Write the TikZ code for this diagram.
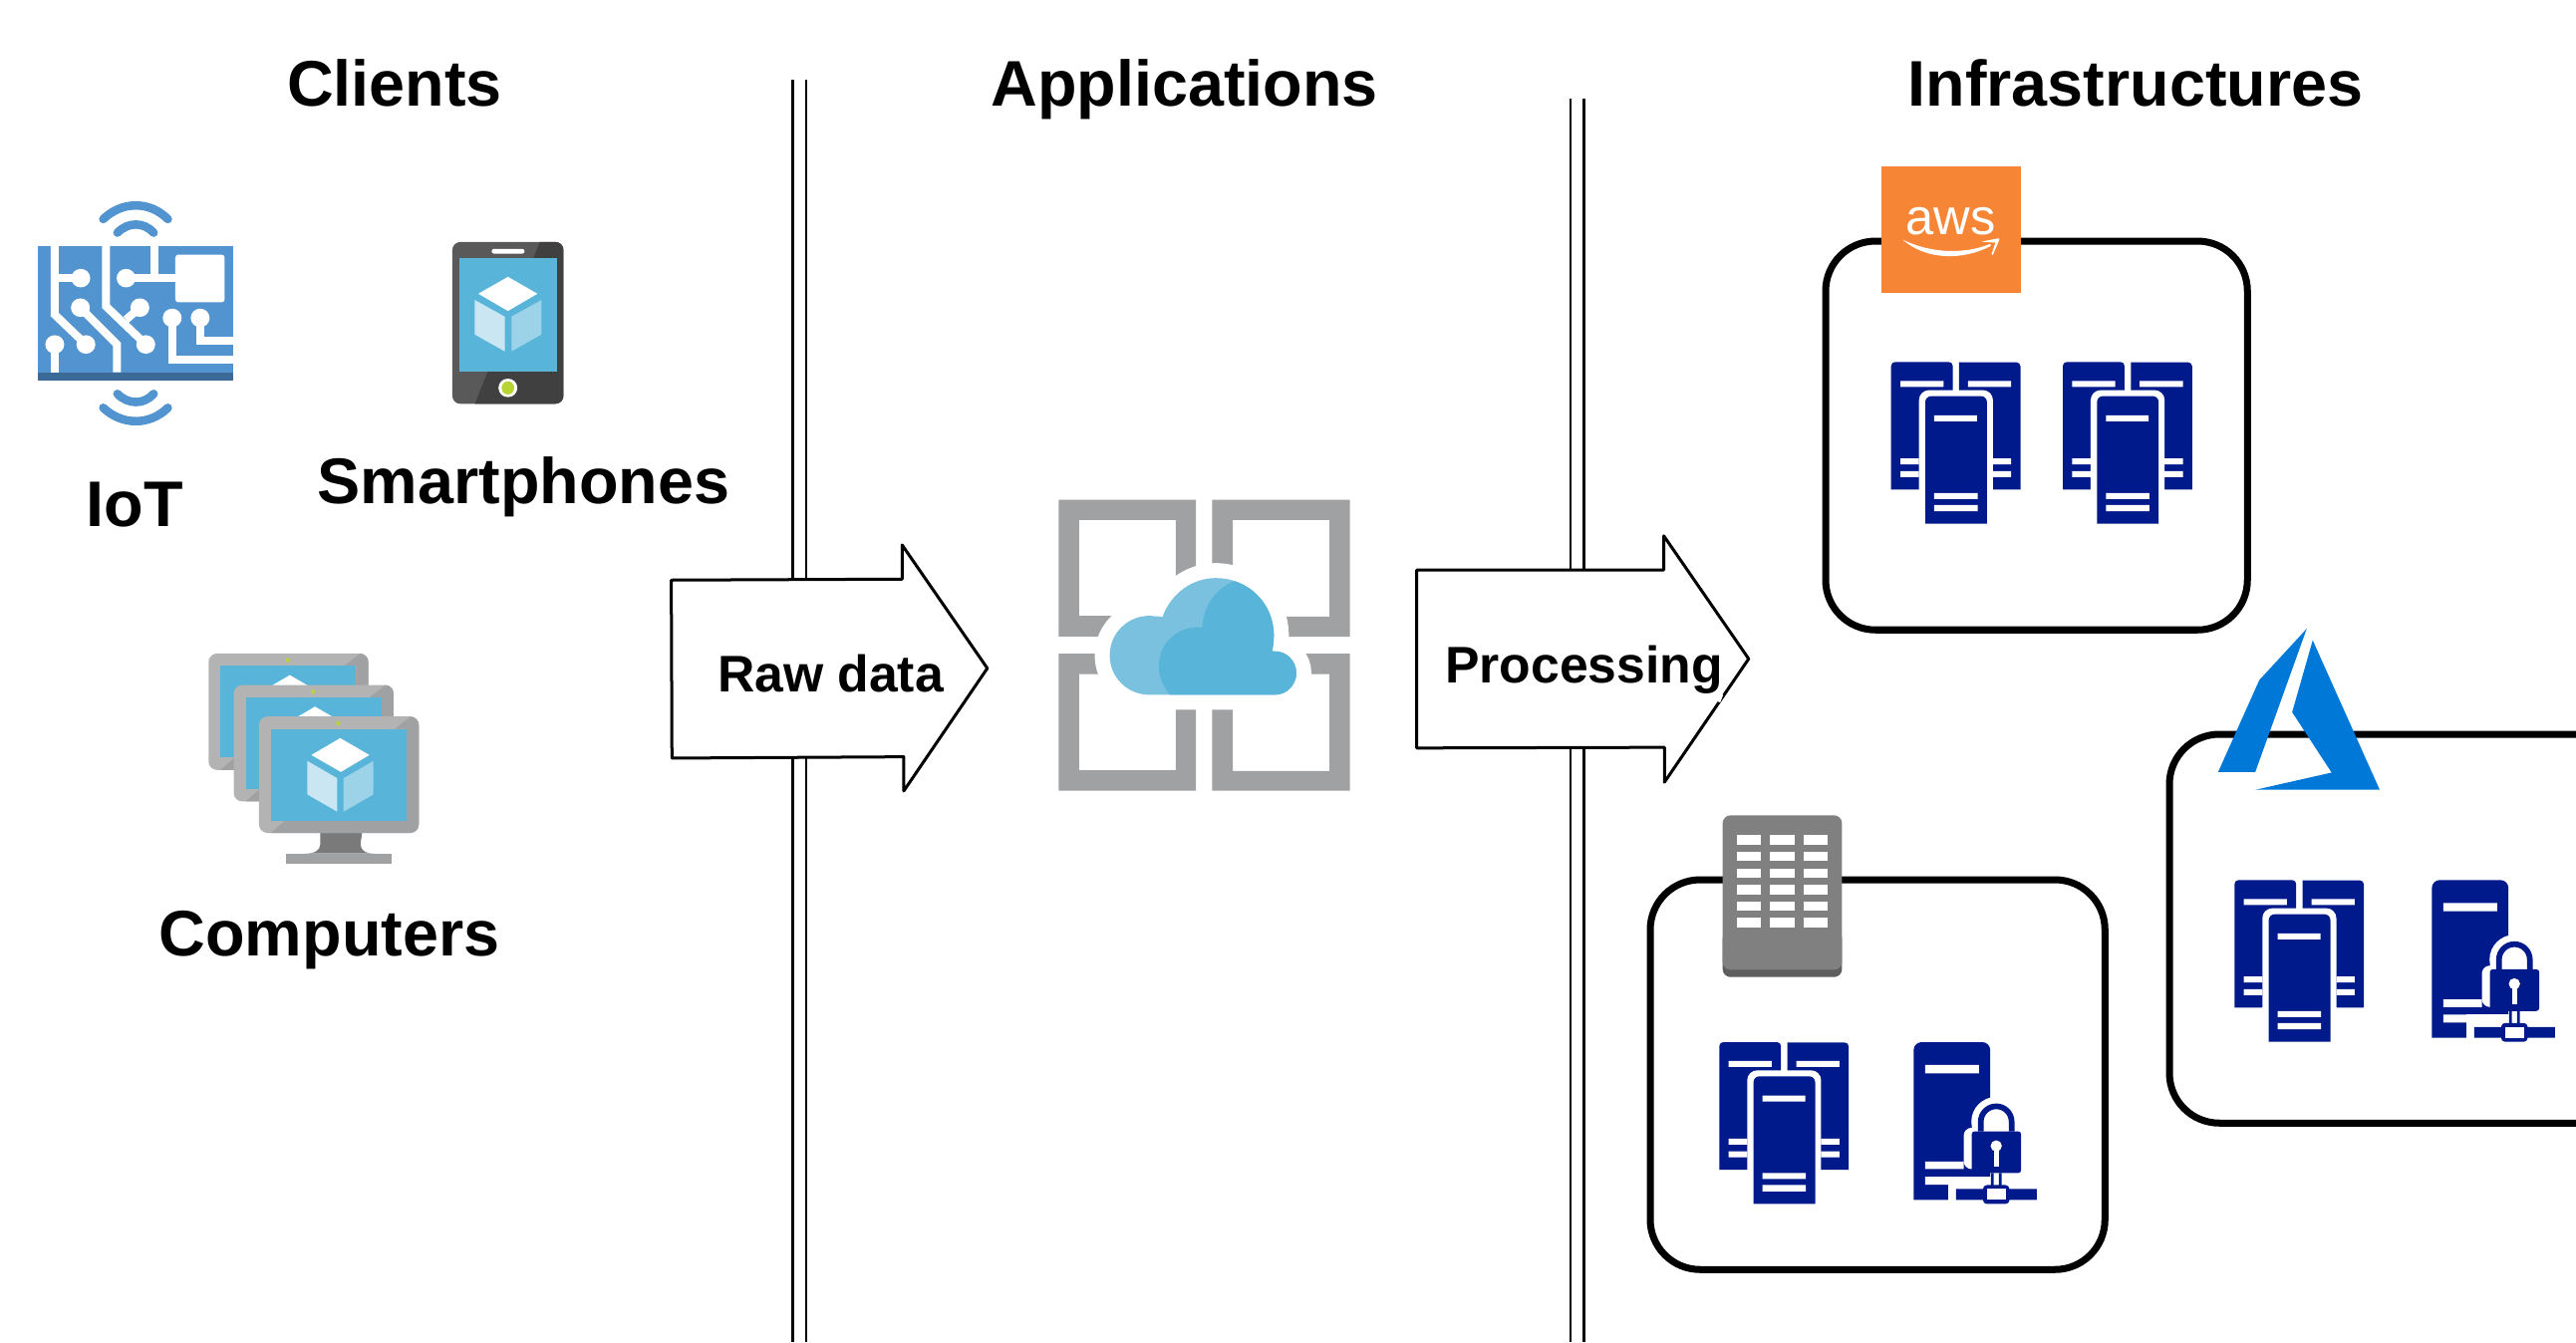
\documentclass[tikz,border=0pt]{standalone}
\usepackage{fontspec}
\setmainfont{Liberation Sans}
\definecolor{srv}{HTML}{001A8C}
\definecolor{iot}{HTML}{5294CF}
\definecolor{iotd}{HTML}{3C6A96}
\definecolor{skyb}{HTML}{59B4D9}
\definecolor{skyl}{HTML}{7AC1E0}
\definecolor{cubel}{HTML}{C9E6F2}
\definecolor{cuber}{HTML}{9CD3E9}
\definecolor{limeg}{HTML}{B8D432}
\definecolor{frml}{HTML}{B3B3B3}
\definecolor{frmd}{HTML}{A0A1A3}
\definecolor{awso}{HTML}{F68536}
\definecolor{azur}{HTML}{0078D7}
\tikzset{
  zm/.style={x=0.0033333cm,y=-0.0033333cm},
  title/.style={font=\fontsize{18.4}{22}\selectfont\bfseries,anchor=base,inner sep=0pt,text=black},
  arrowtext/.style={font=\fontsize{14.7}{18}\selectfont\bfseries,anchor=base,inner sep=0pt,text=black},
  sepline/.style={line width=0.027cm,black},
  bigarrow/.style={draw=black,fill=white,line width=0.03cm,line join=round},
  infobox/.style={draw=black,line width=0.07cm,rounded corners=0.5cm,outer sep=0pt,inner sep=0pt},
  trace/.style={draw=white,line width=0.08cm},
  wave/.style={draw=iot,line width=0.085cm,line cap=round},
  triple/.pic={
    \begin{scope}[zm]
      \fill[srv] (0,385) [rounded corners=0.04cm] -- (0,0) -- (186,0) [sharp corners] -- (186,385) -- cycle;
      \fill[srv] (205,385) -- (205,1) [rounded corners=0.04cm] -- (390,1) [sharp corners] -- (390,385) -- cycle;
      \fill[white] (28,57) rectangle (158,75) (28,291) rectangle (84,309) (28,329) rectangle (84,347);
      \fill[white] (232,57) rectangle (362,75) (307,291) rectangle (362,309) (307,329) rectangle (362,347);
      \fill[white,rounded corners=0.1cm] (84,85) rectangle (307,520);
      \fill[white] (84,385) rectangle (307,520);
      \fill[srv] (103,488) [rounded corners=0.06cm] -- (103,103) -- (289,103) [sharp corners] -- (289,488) -- cycle;
      \fill[white] (130,161) rectangle (259,179) (130,395) rectangle (261,413) (130,431) rectangle (261,450);
    \end{scope}
  },
  secure/.pic={
    \begin{scope}[zm]
      \fill[srv] (0,476) [rounded corners=0.08cm] -- (0,0) -- (231,0) [sharp corners] -- (231,476) -- cycle;
      \fill[white] (35,69) rectangle (197,94) (35,360) rectangle (151,383) (35,406) rectangle (105,430);
      \fill[white,rounded corners=0.08cm] (151,258) rectangle (240,383);
      \fill[white] (175,300) rectangle (240,383);
      \fill[white] (249,240) circle[radius=75];
      \fill[white] (105,406) rectangle (240,480);
      \draw[srv,line width=0.057cm] (202.5,269) -- (202.5,240) arc[start angle=180,end angle=360,radius=46.5] -- (295.5,269);
      \fill[srv,rounded corners=0.03cm] (175,269) rectangle (324,395);
      \fill[white] (249,313) circle[radius=17];
      \fill[white] (242,313) rectangle (257,375);
      \fill[srv] (233,395) rectangle (241,435) (257,395) rectangle (265,435);
      \fill[srv] (128,443) rectangle (215,476) (283,443) rectangle (371,476);
      \fill[srv,rounded corners=0.04cm] (209,431) rectangle (289,488);
      \fill[white] (221,443) rectangle (277,476);
    \end{scope}
  }
}
\newcommand{\mycube}[1]{%
  \fill[white] (485,330) -- (573,381) -- (487,432) -- (398,381) -- cycle;
  \fill[cubel] (386,399) -- (476,451) -- (476,552) -- (386,500) -- cycle;
  \fill[cuber] (585,399) -- (495,451) -- (495,552) -- (585,500) -- cycle;
}
\newcommand{\mymonitor}{%
  \fill[frml,rounded corners=0.085cm] (240,265) rectangle (722,616);
  \begin{scope}
    \clip[rounded corners=0.085cm] (240,265) rectangle (722,616);
    \fill[frmd] (697,265) -- (650,302) -- (685,302) -- (685,579) -- (318,579) -- (276,616) -- (730,616) -- (730,265) -- cycle;
  \end{scope}
  \fill[skyb] (276,302) rectangle (685,579);
  \fill[limeg] (479,285) circle[radius=6.5];
  \mycube{}
}
\newcommand{\mycloud}{(340,650) arc[start angle=90,end angle=280,radius=119] .. controls (367,413) and (374,414) .. (380,416) .. controls (405,345) and (470,298) .. (540,298) .. controls (640,298) and (716,375) .. (716,470) .. controls (716,488) and (714,503) .. (711,519) -- (720,519) .. controls (755,519) and (784,548) .. (784,585) .. controls (784,620) and (755,650) .. (720,650) -- cycle}
\begin{document}
\begin{tikzpicture}[x=0.01cm,y=-0.01cm]
\useasboundingbox (0,0) rectangle (2585,1347);
\clip (0,0) rectangle (2585,1347);
\fill[white] (0,0) rectangle (2585,1347);

% separators
\coordinate (s1t) at (795.5,80); \coordinate (s1b) at (795.5,1347);
\coordinate (s2t) at (809,80);   \coordinate (s2b) at (809,1347);
\coordinate (s3t) at (1576,99);  \coordinate (s3b) at (1576,1347);
\coordinate (s4t) at (1589.5,99);\coordinate (s4b) at (1589.5,1347);
\draw[sepline] (s1t) -- (s1b);
\draw[sepline] (s2t) -- (s2b);
\draw[sepline] (s3t) -- (s3b);
\draw[sepline] (s4t) -- (s4b);

% titles
\node[title] (tclients) at (396,106.5) {Clients};
\node[title] (tapps) at (1188.5,106.5) {Applications};
\node[title] (tinfra) at (2143,106.5) {Infrastructures};
\node[title] (tiot) at (135.5,528) {IoT};
\node[title] (tsmart) at (525.5,505.5) {Smartphones};
\node[title] (tcomp) at (330.5,959) {Computers};

% IoT icon
\begin{scope}[shift={(0,171)},x=0.003953cm,y=-0.003333cm]
  \fill[iot] (97,228) rectangle (592,609);
  \fill[iotd] (97,609) rectangle (592,635);
  \draw[trace] (139,228) -- (139,435) -- (218,525);
  \draw[trace] (139,325) -- (205,325);
  \draw[trace] (269,228) -- (269,410) -- (370,525);
  \draw[trace] (320,450) -- (355,414);
  \draw[trace] (320,325) -- (445,325);
  \draw[trace] (393,228) -- (393,325);
  \draw[trace] (204,414) -- (297,525) -- (297,609);
  \draw[trace] (139,525) -- (139,609);
  \draw[trace] (437,445) -- (437,572) -- (592,572);
  \draw[trace] (508,445) -- (508,513) -- (592,513);
  \fill[white,rounded corners=0.03cm] (445,254) rectangle (570,398);
  \foreach \a/\b in {205/325,218/525,370/525,355/414,320/325,204/414,139/525,437/445,508/445}
    \fill[white] (\a,\b) ellipse[x radius=24,y radius=28];
  \draw[wave] (262,147) .. controls (310,92) and (380,92) .. (426,147);
  \draw[wave] (298,188) .. controls (325,155) and (365,155) .. (390,188);
  \draw[wave] (298,674) .. controls (325,707) and (365,707) .. (390,674);
  \draw[wave] (262,716) .. controls (310,770) and (380,770) .. (426,716);

  % Phone
  \fill[black!65,rounded corners=0.08cm] (1148,216) rectangle (1430,704);
  \begin{scope}
    \clip[rounded corners=0.08cm] (1148,216) rectangle (1430,704);
    \fill[black!75] (1370,216) -- (1205,704) -- (1440,704) -- (1440,216) -- cycle;
  \end{scope}
  \fill[skyb] (1166,264) rectangle (1414,608);
  \fill[white,rounded corners=0.02cm] (1248,237) rectangle (1331,251);
  \fill[white] (1289,656) ellipse[x radius=24,y radius=28];
  \fill[limeg] (1289,656) ellipse[x radius=16,y radius=20];
  \fill[white] (1289,321) -- (1364,372) -- (1289,424) -- (1214,372) -- cycle;
  \fill[cubel] (1205,391) -- (1281,441) -- (1281,546) -- (1205,495) -- cycle;
  \fill[cuber] (1374,391) -- (1298,441) -- (1298,546) -- (1374,495) -- cycle;
\end{scope}

% Computers
\begin{scope}[shift={(180,631)},zm]
  \begin{scope}[shift={(-152,-190)}]\mymonitor\end{scope}
  \begin{scope}[shift={(-76,-95)}]\mymonitor\end{scope}
  \fill[black!52] (425,616) -- (551,616) -- (546,650) .. controls (548,670) and (560,678) .. (590,678) -- (375,678) .. controls (410,678) and (423,670) .. (425,650) -- cycle;
  \fill[frmd] (321,678) rectangle (639,709);
  \mymonitor
\end{scope}

% Application icon
\begin{scope}[shift={(1040,481)},zm]
  \fill[frmd,even odd rule] (67,62) rectangle (481,474) (129,123) rectangle (420,412);
  \fill[frmd,even odd rule] (530,62) rectangle (945,475) (592,123) rectangle (884,414);
  \fill[frmd,even odd rule] (67,526) rectangle (481,939) (129,588) rectangle (420,878);
  \fill[frmd,even odd rule] (530,526) rectangle (945,939) (592,588) rectangle (884,880);
  \fill[white,draw=white,line width=0.3cm] \mycloud;
  \fill[skyl] \mycloud;
  \begin{scope}
    \clip \mycloud;
    \fill[skyb] (597,290) -- (597,307) .. controls (540,330) and (505,380) .. (500,447) .. controls (430,440) and (369,490) .. (369,565) .. controls (369,595) and (382,625) .. (403,650) -- (800,650) -- (800,290) -- cycle;
  \end{scope}
\end{scope}

% Infrastructure boxes
\node[infobox,minimum width=4.23cm,minimum height=3.9cm,anchor=north west] (boxaws) at (1832,242) {};
\node[infobox,minimum width=5cm,minimum height=3.9cm,anchor=north west] (boxazure) at (2177,737) {};
\node[infobox,minimum width=4.56cm,minimum height=3.91cm,anchor=north west] (boxlocal) at (1656,883) {};

% AWS
\begin{scope}[shift={(1860,150)},zm]
  \fill[awso] (84,51) rectangle (504,432);
  \node[font=\fontsize{14.4}{18}\selectfont,text=white,anchor=base,inner sep=0pt] (awslabel) at (293,256) {aws};
  \fill[white] (148,272) .. controls (230,312) and (330,318) .. (412,285) -- (414,291) .. controls (330,335) and (220,335) .. (148,272) -- cycle;
  \fill[white] (385,278) -- (437,268) -- (440,272) -- (420,318) -- (416,316) -- (428,281) -- cycle;
\end{scope}

% Azure
\begin{scope}[shift={(2180,620)},zm]
  \fill[azur] (405,33) -- (262,188) -- (138,465) -- (250,465) -- cycle;
  \fill[azur] (423,68) -- (361,285) -- (480,467) -- (250,519) -- (625,519) -- cycle;
\end{scope}

% Building
\begin{scope}[shift={(1700,801)},zm]
  \fill[black!63,rounded corners=0.08cm] (86,400) rectangle (446,540);
  \fill[black!50,rounded corners=0.08cm] (86,52) rectangle (446,518);
  \foreach \xa/\xb in {129/202,229/303,330/403}
    \foreach \ya/\yb in {111/140,162/190,212/240,262/291,312/340,361/390}
      \fill[white] (\xa,\ya) rectangle (\xb,\yb);
\end{scope}

% Servers
\pic (s1) at (1897.7,363.3) {triple};
\pic (s2) at (2070,363.3) {triple};
\pic (s3) at (2242.3,883.3) {triple};
\pic (s4) at (2440.3,883.3) {secure};
\pic (s5) at (1725.3,1046) {triple};
\pic (s6) at (1920.3,1046) {secure};

% Big arrows
\begin{scope}[shift={(640,521)},zm]
  \draw[bigarrow] (101,184) -- (797,181) -- (797,78) -- (1054,450) -- (802,820) -- (802,717) -- (103,721) -- cycle;
\end{scope}
\node[arrowtext] (lraw) at (833.5,694) {Raw data};
\begin{scope}[shift={(1400,520.5)},zm]
  \draw[bigarrow] (65,155) -- (810,155) -- (810,52) -- (1066,423) -- (812,795) -- (812,690) -- (65,692) -- cycle;
  \draw[white,line width=0.03cm] (985,530) -- (976,553);
\end{scope}
\node[arrowtext] (lproc) at (1589.5,685.5) {Processing};
\end{tikzpicture}
\end{document}
